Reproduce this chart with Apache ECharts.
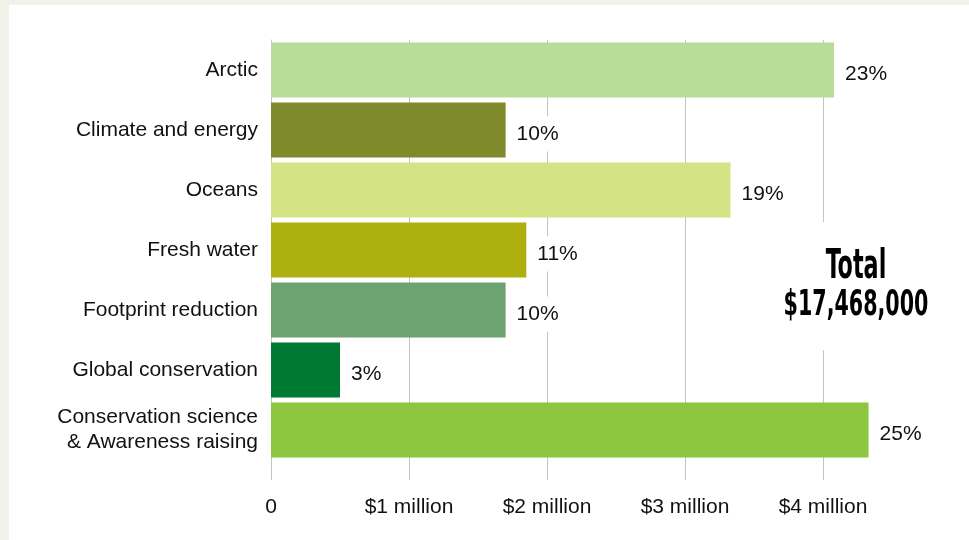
<!DOCTYPE html>
<html>
<head>
<meta charset="utf-8">
<script src="https://cdn.jsdelivr.net/npm/echarts@6/dist/echarts.min.js"></script>
<style>
html,body{margin:0;padding:0;background:#f2f2ea;}
#c{width:969px;height:540px;}
</style>
</head>
<body>
<div id="c"></div>
<script>
// Data (values in $ million)
var categories = ['Arctic', 'Climate and energy', 'Oceans', 'Fresh water', 'Footprint reduction', 'Global conservation', 'Conservation science\n& Awareness raising'];
var values = [4.08, 1.70, 3.33, 1.85, 1.70, 0.50, 4.33];
var percents = ['23%', '10%', '19%', '11%', '10%', '3%', '25%'];
var barColors = ['#b8dc9a', '#7f8a2a', '#d4e384', '#aeb00f', '#6da271', '#007a33', '#8dc63f'];
var tickLabels = {0: '0', 1: '$1 million', 2: '$2 million', 3: '$3 million', 4: '$4 million'};
var totalTitle = 'Total';
var totalValue = '$17,468,000';

var chart = echarts.init(document.getElementById('c'));
var font = '"Liberation Sans", Arial, sans-serif';
var condensed = '"DejaVu Sans Condensed", "Liberation Sans", sans-serif';

chart.setOption({
  backgroundColor: '#f2f2ea',
  animation: false,
  graphic: [
    {type: 'rect', z: -1, shape: {x: 9, y: 5, width: 970, height: 540}, style: {fill: '#ffffff'}},
    {type: 'rect', z: 100, shape: {x: 778, y: 222, width: 160, height: 128}, style: {fill: '#ffffff'}},
    {type: 'text', z: 101, x: 856, y: 268, scaleX: 0.62, style: {text: totalTitle, fill: '#000', font: 'bold 40px ' + condensed, textAlign: 'center', textVerticalAlign: 'middle'}},
    {type: 'text', z: 101, x: 856, y: 306, scaleX: 0.655, style: {text: totalValue, fill: '#000', font: 'bold 35px ' + condensed, textAlign: 'center', textVerticalAlign: 'middle'}}
  ],
  grid: {left: 271, right: 146, top: 40, height: 420, containLabel: false},
  xAxis: {
    type: 'value', min: 0, max: 4, interval: 1,
    axisLine: {show: false},
    axisTick: {show: true, length: 20, lineStyle: {color: '#c4c4c4', width: 1}},
    splitLine: {show: true, lineStyle: {color: '#c4c4c4', width: 1}},
    axisLabel: {margin: 37, color: '#111', fontFamily: font, fontSize: 21, verticalAlign: 'top',
      formatter: function (v) { return tickLabels[v] !== undefined ? tickLabels[v] : ''; }}
  },
  yAxis: {
    type: 'category', data: categories, inverse: true,
    axisLine: {show: true, lineStyle: {color: '#c4c4c4', width: 1}},
    axisTick: {show: false},
    axisLabel: {margin: 13, color: '#111', fontFamily: font, fontSize: 21, lineHeight: 25, align: 'right', padding: [0, 0, 3, 0]}
  },
  series: [{
    type: 'bar',
    clip: false,
    barWidth: 55,
    data: values.map(function (v, i) { return {value: v, itemStyle: {color: barColors[i]}}; }),
    label: {
      show: true, position: 'right', distance: 9, offset: [0, 4],
      formatter: function (p) { return percents[p.dataIndex]; },
      color: '#111', fontFamily: font, fontSize: 21,
      backgroundColor: '#ffffff', padding: [7, 2]
    }
  }]
});
</script>
</body>
</html>
